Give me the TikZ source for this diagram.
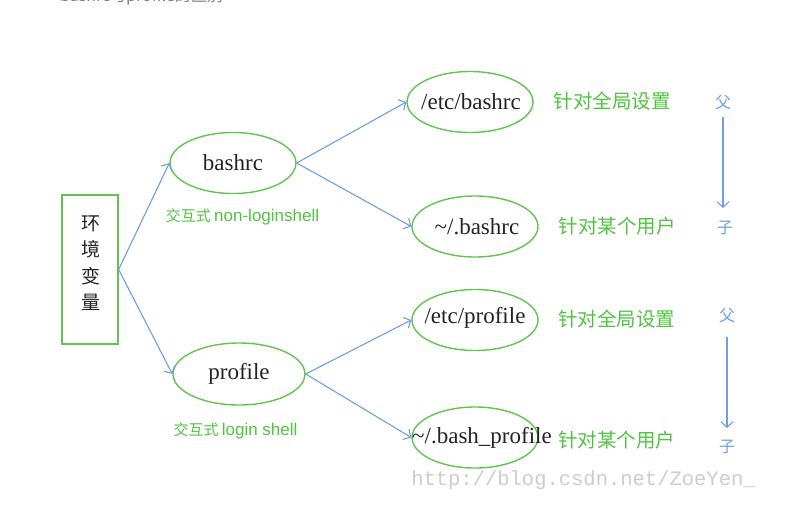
\documentclass[tikz,border=0pt]{standalone}
\usepackage{fontspec}
\setmainfont{Liberation Serif}
\newfontfamily\cjk{Noto Sans CJK SC}
\newfontfamily\lsans{Liberation Sans}
\newfontfamily\lmono{Liberation Mono}
\usetikzlibrary{shapes.geometric,arrows.meta}
\definecolor{egreen}{RGB}{98,196,80}
\definecolor{tgreen}{RGB}{78,196,62}
\definecolor{ablue}{RGB}{112,158,226}
\definecolor{tgray}{RGB}{35,35,35}
\tikzset{
  x=1pt,y=-1pt,
  ell/.style={draw=egreen,line width=1.4pt,ellipse,minimum width=126pt,minimum height=61pt,inner sep=0pt},
  etext/.style={inner sep=0pt,font=\fontsize{23}{26}\selectfont,text=tgray},
  conn/.style={draw=ablue,line width=1.1pt,-{Straight Barb[length=5.5pt,width=12pt]}},
  glabel/.style={text=tgreen,inner sep=0pt,font=\cjk\fontsize{15}{18}\selectfont},
  rlabel/.style={text=tgreen,inner sep=0pt,font=\cjk\fontsize{19.5}{22}\selectfont},
  fzlabel/.style={text=ablue,inner sep=0pt,font=\cjk\fontsize{16}{18}\selectfont},
}
\begin{document}
\begin{tikzpicture}
\useasboundingbox (0,0) rectangle (790,509);
% cropped title at the top
\node[anchor=base west,inner sep=0pt,text=gray,font=\cjk\fontsize{16}{18}\selectfont] (title) at (60,1.5) {bashrc与profile的区别};

% box
\node[draw=egreen,line width=1.3pt,minimum width=56pt,minimum height=149pt,inner sep=0pt] (env) at (90,269.5) {};
\node[align=center,inner sep=0pt,text=tgray,font=\cjk\fontsize{19}{26.5}\selectfont] (envtxt) at (91,263) {环\\境\\变\\量};

% ellipses
\node[ell] (bashrc) at (233,163) {};
\node[etext] (bashrctxt) at (bashrc) {bashrc};
\node[ell,minimum width=132pt,minimum height=62pt] (profile) at (239,374) {};
\node[etext] (profiletxt) at (profile) {profile};
\node[ell] (etcbashrc) at (470,102) {};
\node[etext] (etcbashrctxt) at (471,102) {/etc/bashrc};
\node[ell] (ubashrc) at (475,226.5) {};
\node[etext] (ubashrctxt) at (477,227) {\textasciitilde/.bashrc};
\node[ell] (etcprofile) at (475,320) {};
\node[etext] (etcprofiletxt) at (475,318) {/etc/profile};
\node[ell] (ubp) at (475,437.5) {};
\node[etext] (ubptxt) at (482,438) {\textasciitilde/.bash\_profile};

% labels under the shells
\node[glabel] (lab1) at (242.5,217) {交互式 {\lsans\fontsize{17}{18}\selectfont non-loginshell}};
\node[glabel] (lab2) at (235.5,431) {交互式 {\lsans\fontsize{17}{18}\selectfont login shell}};

% right labels
\node[rlabel] (r1) at (612,101) {针对全局设置};
\node[rlabel] (r2) at (617,226) {针对某个用户};
\node[rlabel] (r3) at (616.5,319) {针对全局设置};
\node[rlabel] (r4) at (616.5,440) {针对某个用户};

% parent / child
\node[fzlabel] (f1) at (723,102) {父};
\node[fzlabel] (c1) at (725,228) {子};
\node[fzlabel] (f2) at (727,315) {父};
\node[fzlabel] (c2) at (727,447) {子};
\coordinate (f1s) at (723,117);
\coordinate (f1e) at (723,208);
\coordinate (f2s) at (727,337);
\coordinate (f2e) at (727,428);
\draw[conn] (f1s) -- (f1e);
\draw[conn] (f2s) -- (f2e);

% connectors
\draw[conn] (env.east) -- (bashrc.west);
\draw[conn] (env.east) -- (profile.west);
\draw[conn] (bashrc.east) -- (etcbashrc.west);
\draw[conn] (bashrc.east) -- (ubashrc.west);
\draw[conn] (profile.east) -- (etcprofile.west);
\draw[conn] (profile.east) -- (ubp.west);

% watermark
\node[inner sep=0pt,text=black!20,font=\lmono\fontsize{20.5}{22}\selectfont] (wm) at (583.5,480) {http://blog.csdn.net/ZoeYen\_};
\end{tikzpicture}
\end{document}
